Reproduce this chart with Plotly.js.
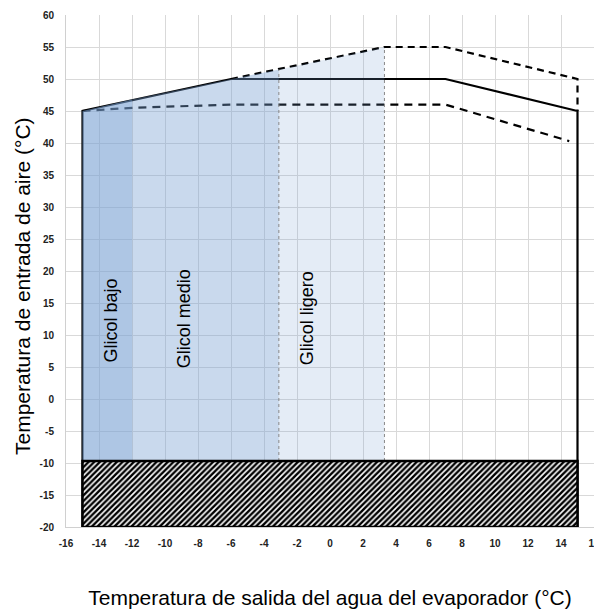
<!DOCTYPE html>
<html><head><meta charset="utf-8">
<script src="https://cdn.plot.ly/plotly-3.0.1.min.js"></script>
<style>html,body{margin:0;padding:0;background:#fff}#chart{width:594px;height:612px}</style>
</head><body><div id="chart"></div>
<script>
// Envelope (solid)
const envX = [-15, -15, -6, 7, 15, 15];
const envY = [-20, 45, 50, 50, 45, -20];
// Upper dashed envelope
const upX = [-6, 3.3, 7, 15, 15];
const upY = [50, 55, 55, 50, 45];
// Lower dashed envelope
const lowX = [-15, -12, -6, 7, 14.5];
const lowY = [45, 45.5, 46, 46, 40.3];
// Glycol bands (x edges and top values at the edges)
const bandNames = ["Glicol bajo", "Glicol medio", "Glicol ligero"];
const bandX = [[-15, -12], [-12, -6, -3.1], [-3.1, 3.3]];
const bandTop = [[45, 46.8], [46.8, 50, 51.5], [51.5, 55]];
const bandBottom = -10;
const bandColors = ["rgba(120,160,210,0.6)", "rgba(120,160,210,0.4)", "rgba(120,160,210,0.2)"];
const labelX = [-13.3, -8.8, -1.4];
const labelY = [12.2, 12.6, 12.6];
// Hatched zone
const hatchX = [-15, 15, 15, -15, -15];
const hatchY = [-20, -20, -9.7, -9.7, -20];
// Dotted separators
const sepX = [-3.1, 3.3];
const sepTop = [51.5, 55];
// Ticks
const xTickVals = [-16, -14, -12, -10, -8, -6, -4, -2, 0, 2, 4, 6, 8, 10, 12, 14, 16];
const xTickText = ["-16", "-14", "-12", "-10", "-8", "-6", "-4", "-2", "0", "2", "4", "6", "8", "10", "12", "14", "16"];
const yTickVals = [-20, -15, -10, -5, 0, 5, 10, 15, 20, 25, 30, 35, 40, 45, 50, 55, 60];
const yTickText = ["-20", "-15", "-10", "-5", "0", "5", "10", "15", "20", "25", "30", "35", "40", "45", "50", "55", "60"];
const xTitle = 'Temperatura de salida del agua del evaporador (°C)';
const yTitle = 'Temperatura de entrada de aire (°C)';

const FONT = 'Liberation Sans, Arial, sans-serif';
const traces = [];
traces.push({x: envX, y: envY, mode: 'lines', line: {color: '#000', width: 2.2}, hoverinfo: 'skip'});
traces.push({x: upX, y: upY, mode: 'lines', line: {color: '#000', width: 2.2, dash: '7px,5px'}, hoverinfo: 'skip'});
traces.push({x: lowX, y: lowY, mode: 'lines', line: {color: '#000', width: 2.2, dash: '8px,6px'}, hoverinfo: 'skip'});
bandX.forEach((bx, i) => {
  const xs = bx.concat(bx.slice().reverse(), [bx[0]]);
  const ys = bandTop[i].concat(bx.map(() => bandBottom), [bandTop[i][0]]);
  traces.push({x: xs, y: ys, mode: 'lines', fill: 'toself', fillcolor: bandColors[i], line: {width: 0}, hoverinfo: 'skip'});
});
sepX.forEach((sx, i) => {
  traces.push({x: [sx, sx], y: [-20, sepTop[i]], mode: 'lines', line: {color: '#888', width: 1, dash: 'dot'}, hoverinfo: 'skip'});
});
traces.push({x: hatchX, y: hatchY, mode: 'lines', fill: 'toself',
  fillcolor: '#fff',
  fillpattern: {shape: '/', size: 4, solidity: 0.6, fgcolor: '#000', bgcolor: '#fff'},
  line: {color: '#000', width: 2.5}, hoverinfo: 'skip'});

const annotations = bandNames.map((t, i) => ({
  x: labelX[i], y: labelY[i], xref: 'x', yref: 'y', text: t, showarrow: false,
  textangle: -90, font: {family: FONT, size: 18, color: '#000'}
}));
annotations.push({
  x: 0, y: 0.4707, xref: 'paper', yref: 'paper', xanchor: 'center', yanchor: 'middle',
  xshift: -44, text: yTitle, showarrow: false, textangle: -90,
  font: {family: FONT, size: 21, color: '#000'}
});

const layout = {
  width: 594, height: 612,
  margin: {l: 66, r: 0, t: 15, b: 85},
  paper_bgcolor: '#fff', plot_bgcolor: '#fff',
  showlegend: false,
  xaxis: {range: [-16, 16], tickmode: 'array', tickvals: xTickVals, ticktext: xTickText,
    showgrid: true, gridcolor: '#d9d9d9', gridwidth: 1,
    zeroline: false, showline: true, linecolor: '#d0d0d0', ticks: '', ticklabelstandoff: 7,
    ticklabeloverflow: 'allow',
    tickfont: {family: FONT, size: 10, color: '#222', weight: 'bold'},
    title: {text: xTitle, standoff: 42,
      font: {family: FONT, size: 21, color: '#000'}}},
  yaxis: {range: [-20, 60], tickmode: 'array', tickvals: yTickVals, ticktext: yTickText,
    showgrid: true, gridcolor: '#d9d9d9', gridwidth: 1,
    zeroline: false, showline: true, linecolor: '#d0d0d0', ticks: '', ticklabelstandoff: 9,
    tickfont: {family: FONT, size: 10, color: '#222', weight: 'bold'}},
  annotations: annotations
};
Plotly.newPlot('chart', traces, layout, {displayModeBar: false, staticPlot: true});
</script></body></html>
